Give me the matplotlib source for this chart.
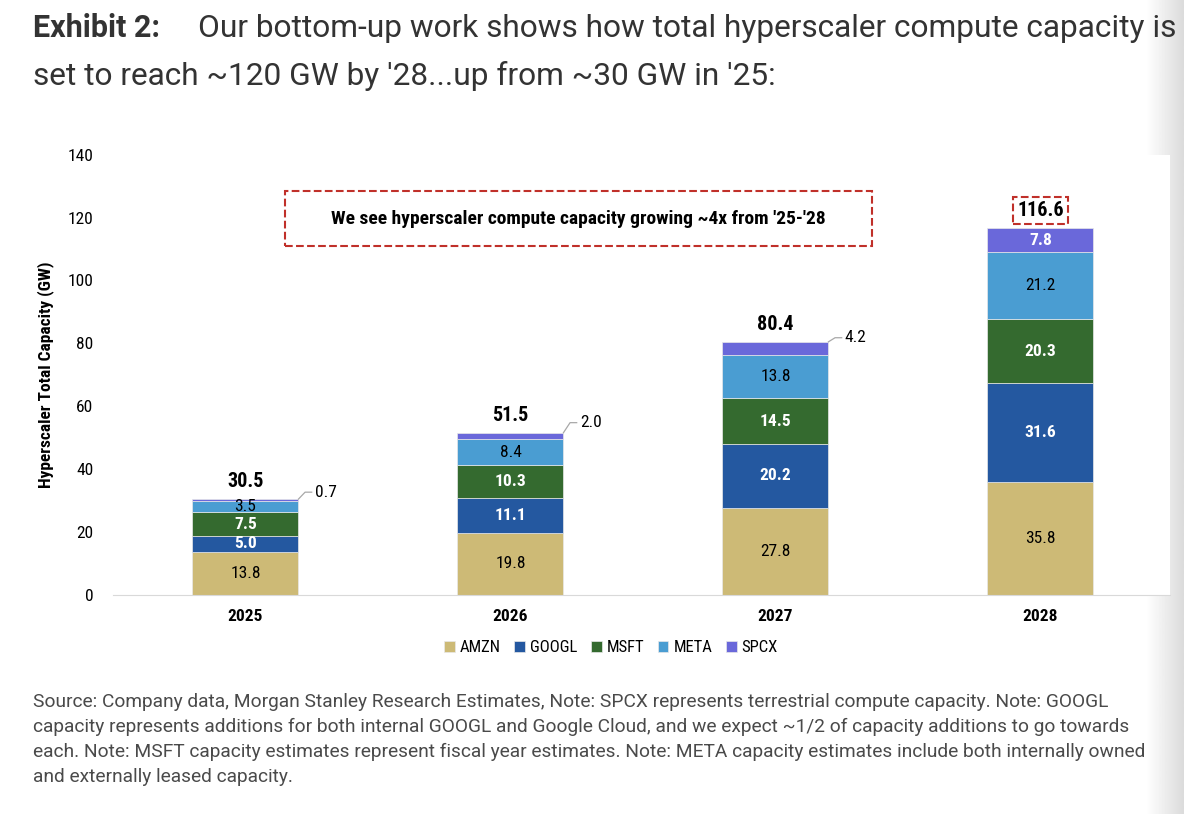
import numpy as np
import matplotlib.pyplot as plt
from matplotlib.patches import Rectangle
from matplotlib import font_manager

names = {f.name for f in font_manager.fontManager.ttflist}
cond = 'DejaVu Sans'
for c in ['Roboto Condensed', 'Barlow Semi Condensed', 'Fira Sans Condensed', 'IBM Plex Sans Condensed']:
    if c in names:
        cond = c
        break
plt.rcParams['font.family'] = [cond, 'DejaVu Sans']
page_font = ['Roboto', 'DejaVu Sans']

years = ['2025', '2026', '2027', '2028']
companies = ['AMZN', 'GOOGL', 'MSFT', 'META', 'SPCX']
amzn = [13.8, 19.8, 27.8, 35.8]
googl = [5.0, 11.1, 20.2, 31.6]
msft = [7.5, 10.3, 14.5, 20.3]
meta = [3.5, 8.4, 13.8, 21.2]
spcx = [0.7, 2.0, 4.2, 7.8]
totals = [30.5, 51.5, 80.4, 116.6]

colors = ['#CDBA76', '#2458A0', '#346A2F', '#4A9DD2', '#6A68DA']
label_colors = ['black', 'white', 'white', 'black', 'white']
lead_dy = [2.2, 3.2, 1.3]   # leader rise for the small SPCX slices
red = '#C0302A'

fig = plt.figure(figsize=(11.84, 8.14), dpi=100)
ax = fig.add_axes([0.0954, 0.269, 0.893, 0.541])

x = np.arange(len(years))
w = 0.4
series = [amzn, googl, msft, meta, spcx]
bottom = np.zeros(len(years))
for vals, c, lc, name in zip(series, colors, label_colors, companies):
    vals = np.array(vals)
    ax.bar(x, vals, w, bottom=bottom, color=c, edgecolor='#E8E8E8', linewidth=0.5, label=name)
    for i, v in enumerate(vals):
        if name == 'SPCX' and v < 5:
            x0 = x[i] + w / 2
            y0 = bottom[i] + v
            dy = lead_dy[i]
            ax.plot([x0, x0 + 0.025, x0 + 0.05], [y0, y0 + dy, y0 + dy], color='#A8A8A8', lw=0.9)
            ax.text(x0 + 0.062, y0 + dy, f'{v:.1f}', ha='left', va='center', fontsize=12.5)
        else:
            ax.text(x[i], bottom[i] + v / 2, f'{v:.1f}', ha='center', va='center',
                    fontsize=12.5, color=lc, fontweight='bold' if lc == 'white' else 'normal')
    bottom += vals

for i, t in enumerate(totals):
    kw = {}
    if i == len(totals) - 1:
        kw['bbox'] = dict(boxstyle='square,pad=0.2', fc='white', ec=red, ls='--', lw=1.5)
    ax.text(x[i], bottom[i] + 5.6, f'{t:.1f}', ha='center', va='center', fontsize=14.5,
            fontweight='bold', **kw)

ax.add_patch(Rectangle((0.15, 111), 2.216, 17.5, fill=False, ec=red, ls='--', lw=1.5))
ax.text(1.258, 119.6, "We see hyperscaler compute capacity growing ~4x from '25-'28",
        ha='center', va='center', fontsize=14, fontweight='bold')

ax.set_xlim(-0.5, 3.49)
ax.set_ylim(0, 140)
ax.set_yticks(np.arange(0, 141, 20))
ax.set_xticks(x)
ax.set_xticklabels(years, fontweight='bold')
ax.tick_params(axis='both', length=0, labelsize=12.5)
ax.tick_params(axis='y', pad=14)
ax.tick_params(axis='x', pad=10)
for s in ['top', 'right', 'left']:
    ax.spines[s].set_visible(False)
ax.spines['bottom'].set_color('#D9D9D9')
ax.set_ylabel('Hyperscaler Total Capacity (GW)', fontsize=12.5, fontweight='bold', labelpad=10)

ax.legend(loc='center', bbox_to_anchor=(0.471, -0.12), ncol=5, frameon=False,
          fontsize=12, handlelength=0.65, handleheight=0.65, columnspacing=0.8, handletextpad=0.3)

title_col = '#333333'
fig.text(0.028, 0.9545, 'Exhibit 2:', fontsize=22, fontweight='bold', color=title_col,
         va='baseline', family=page_font)
fig.text(0.167, 0.9545, 'Our bottom-up work shows how total hyperscaler compute capacity is',
         fontsize=22.8, fontweight='normal', color=title_col, va='baseline', family=page_font)
fig.text(0.028, 0.8956, "set to reach ~120 GW by '28...up from ~30 GW in '25:", fontsize=22.8,
         fontweight='normal', color=title_col, va='baseline', family=page_font)

note_lines = [
    "Source: Company data, Morgan Stanley Research Estimates, Note: SPCX represents terrestrial compute capacity. Note: GOOGL",
    "capacity represents additions for both internal GOOGL and Google Cloud, and we expect ~1/2 of capacity additions to go towards",
    "each. Note: MSFT capacity estimates represent fiscal year estimates. Note: META capacity estimates include both internally owned",
    "and externally leased capacity.",
]
for k, line in enumerate(note_lines):
    fig.text(0.028, (814 - 707 - 25 * k) / 814, line, fontsize=13.8, fontweight='normal',
             color='#4A4A4A', va='baseline', family=page_font)

# page edge shading on the right
gax = fig.add_axes([0.968, 0, 0.032, 1])
grad = np.linspace(1.0, 0.86, 50).reshape(1, -1)
gax.imshow(grad, aspect='auto', cmap='gray', vmin=0, vmax=1, extent=[0, 1, 0, 1])
gax.axis('off')
gax.set_zorder(-1)

fig.savefig('out.png', dpi=100)
